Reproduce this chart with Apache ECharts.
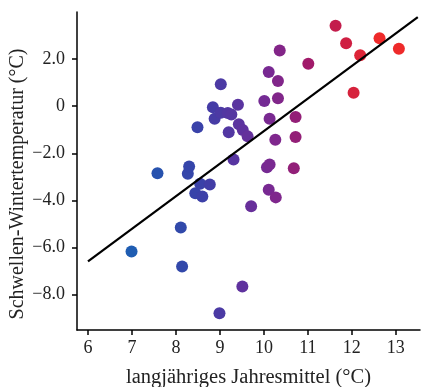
<!DOCTYPE html>
<html>
<head>
<meta charset="utf-8">
<script src="https://cdn.jsdelivr.net/npm/echarts@6/dist/echarts.min.js"></script>
<style>
  html, body { margin: 0; padding: 0; background: #fff; }
  #chart { width: 424px; height: 387px; }
</style>
</head>
<body>
<div id="chart"></div>
<script>
// Jahresmittel (x) und Schwellen-Wintertemperatur (y), je Punkt
var jahresmittel = [6.99, 7.58, 8.11, 8.14, 8.27, 8.30, 8.44, 8.49, 8.55, 8.60, 8.77, 8.84, 8.88, 8.99, 9.02, 9.02,
  9.18, 9.26, 9.20, 9.31, 9.41, 9.43, 9.52, 9.63, 9.51, 9.71, 10.01, 10.11, 10.07, 10.13, 10.11, 10.13,
  10.26, 10.27, 10.32, 10.32, 10.36, 10.68, 10.72, 10.72, 11.01, 11.63, 11.87, 12.04, 12.19, 12.63, 13.07];
var schwelle = [-6.17, -2.85, -5.15, -6.80, -2.87, -2.56, -3.69, -0.89, -3.29, -3.83, -3.32, -0.04, -0.53, -8.79, 0.93, -0.28,
  -0.29, -0.35, -1.10, -2.26, 0.06, -0.77, -1.01, -1.28, -7.65, -4.25, 0.22, 1.45, -2.59, -2.47, -3.55, -0.53,
  -1.42, -3.87, 1.07, 0.34, 2.37, -2.63, -0.46, -1.31, 1.80, 3.42, 2.67, 0.57, 2.16, 2.89, 2.44];
// Regressionsgerade
var lineX = [6, 13.5];
var lineY = [-6.59, 3.78];
var xTicks = [6, 7, 8, 9, 10, 11, 12, 13];
var yTicks = [-8, -6, -4, -2, 0, 2];

var punkte = [];
for (var i = 0; i < jahresmittel.length; i++) {
  punkte.push([jahresmittel[i], schwelle[i]]);
}
var gerade = [[lineX[0], lineY[0]], [lineX[1], lineY[1]]];

var font = "'Liberation Serif', 'DejaVu Serif', serif";
var myChart = echarts.init(document.getElementById("chart"));

var option = {
  animation: false,
  grid: { left: 77, right: 4, top: 12, bottom: 57, containLabel: false, outerBoundsMode: "none" },
  // y-Achsentitel als eigener Text, damit er wie im Original etwas tiefer sitzt
  graphic: [
    {
      type: "text",
      x: 18,
      y: 184,
      rotation: Math.PI / 2,
      style: {
        text: "Schwellen-Wintertemperatur (°C)",
        fontFamily: font,
        fontSize: 20,
        fill: "#222",
        align: "center",
        verticalAlign: "middle",
      },
    },
  ],
  visualMap: {
    show: false,
    type: "continuous",
    dimension: 0,
    seriesIndex: 0,
    min: 7,
    max: 12.6,
    inRange: {
      color: ["#1f5db2", "#2a4eac", "#3c40a8", "#5a34a0", "#7c2890", "#a01a6a", "#cc1e44", "#ee2a2a"],
    },
  },
  xAxis: {
    type: "value",
    min: 5.75,
    max: 13.55,
    name: "langjähriges Jahresmittel (°C)",
    nameLocation: "middle",
    nameGap: 37,
    nameTextStyle: { fontFamily: font, fontSize: 20.5, color: "#222" },
    splitLine: { show: false },
    axisLine: { show: true, onZero: false, lineStyle: { color: "#000", width: 1.5 } },
    axisTick: { show: true, length: 5, customValues: xTicks, lineStyle: { color: "#000", width: 1.5 } },
    axisLabel: { customValues: xTicks, fontFamily: font, fontSize: 18, color: "#222", margin: 9 },
  },
  yAxis: {
    type: "value",
    min: -9.5,
    max: 4,
    splitLine: { show: false },
    axisLine: { show: true, onZero: false, lineStyle: { color: "#000", width: 1.5 } },
    axisTick: { show: true, length: 5, customValues: yTicks, lineStyle: { color: "#000", width: 1.5 } },
    axisLabel: {
      customValues: yTicks,
      fontFamily: font,
      fontSize: 18,
      color: "#222",
      margin: 12,
      formatter: function (v) {
        if (v === 0) return "0";
        return v.toFixed(1).replace("-", "−");
      },
    },
  },
  series: [
    {
      type: "scatter",
      data: punkte,
      symbolSize: 12,
      itemStyle: { opacity: 1 },
      z: 2,
    },
    {
      type: "line",
      data: gerade,
      symbol: "none",
      lineStyle: { color: "#000", width: 2.2 },
      z: 3,
    },
  ],
};

myChart.setOption(option);
</script>
</body>
</html>
